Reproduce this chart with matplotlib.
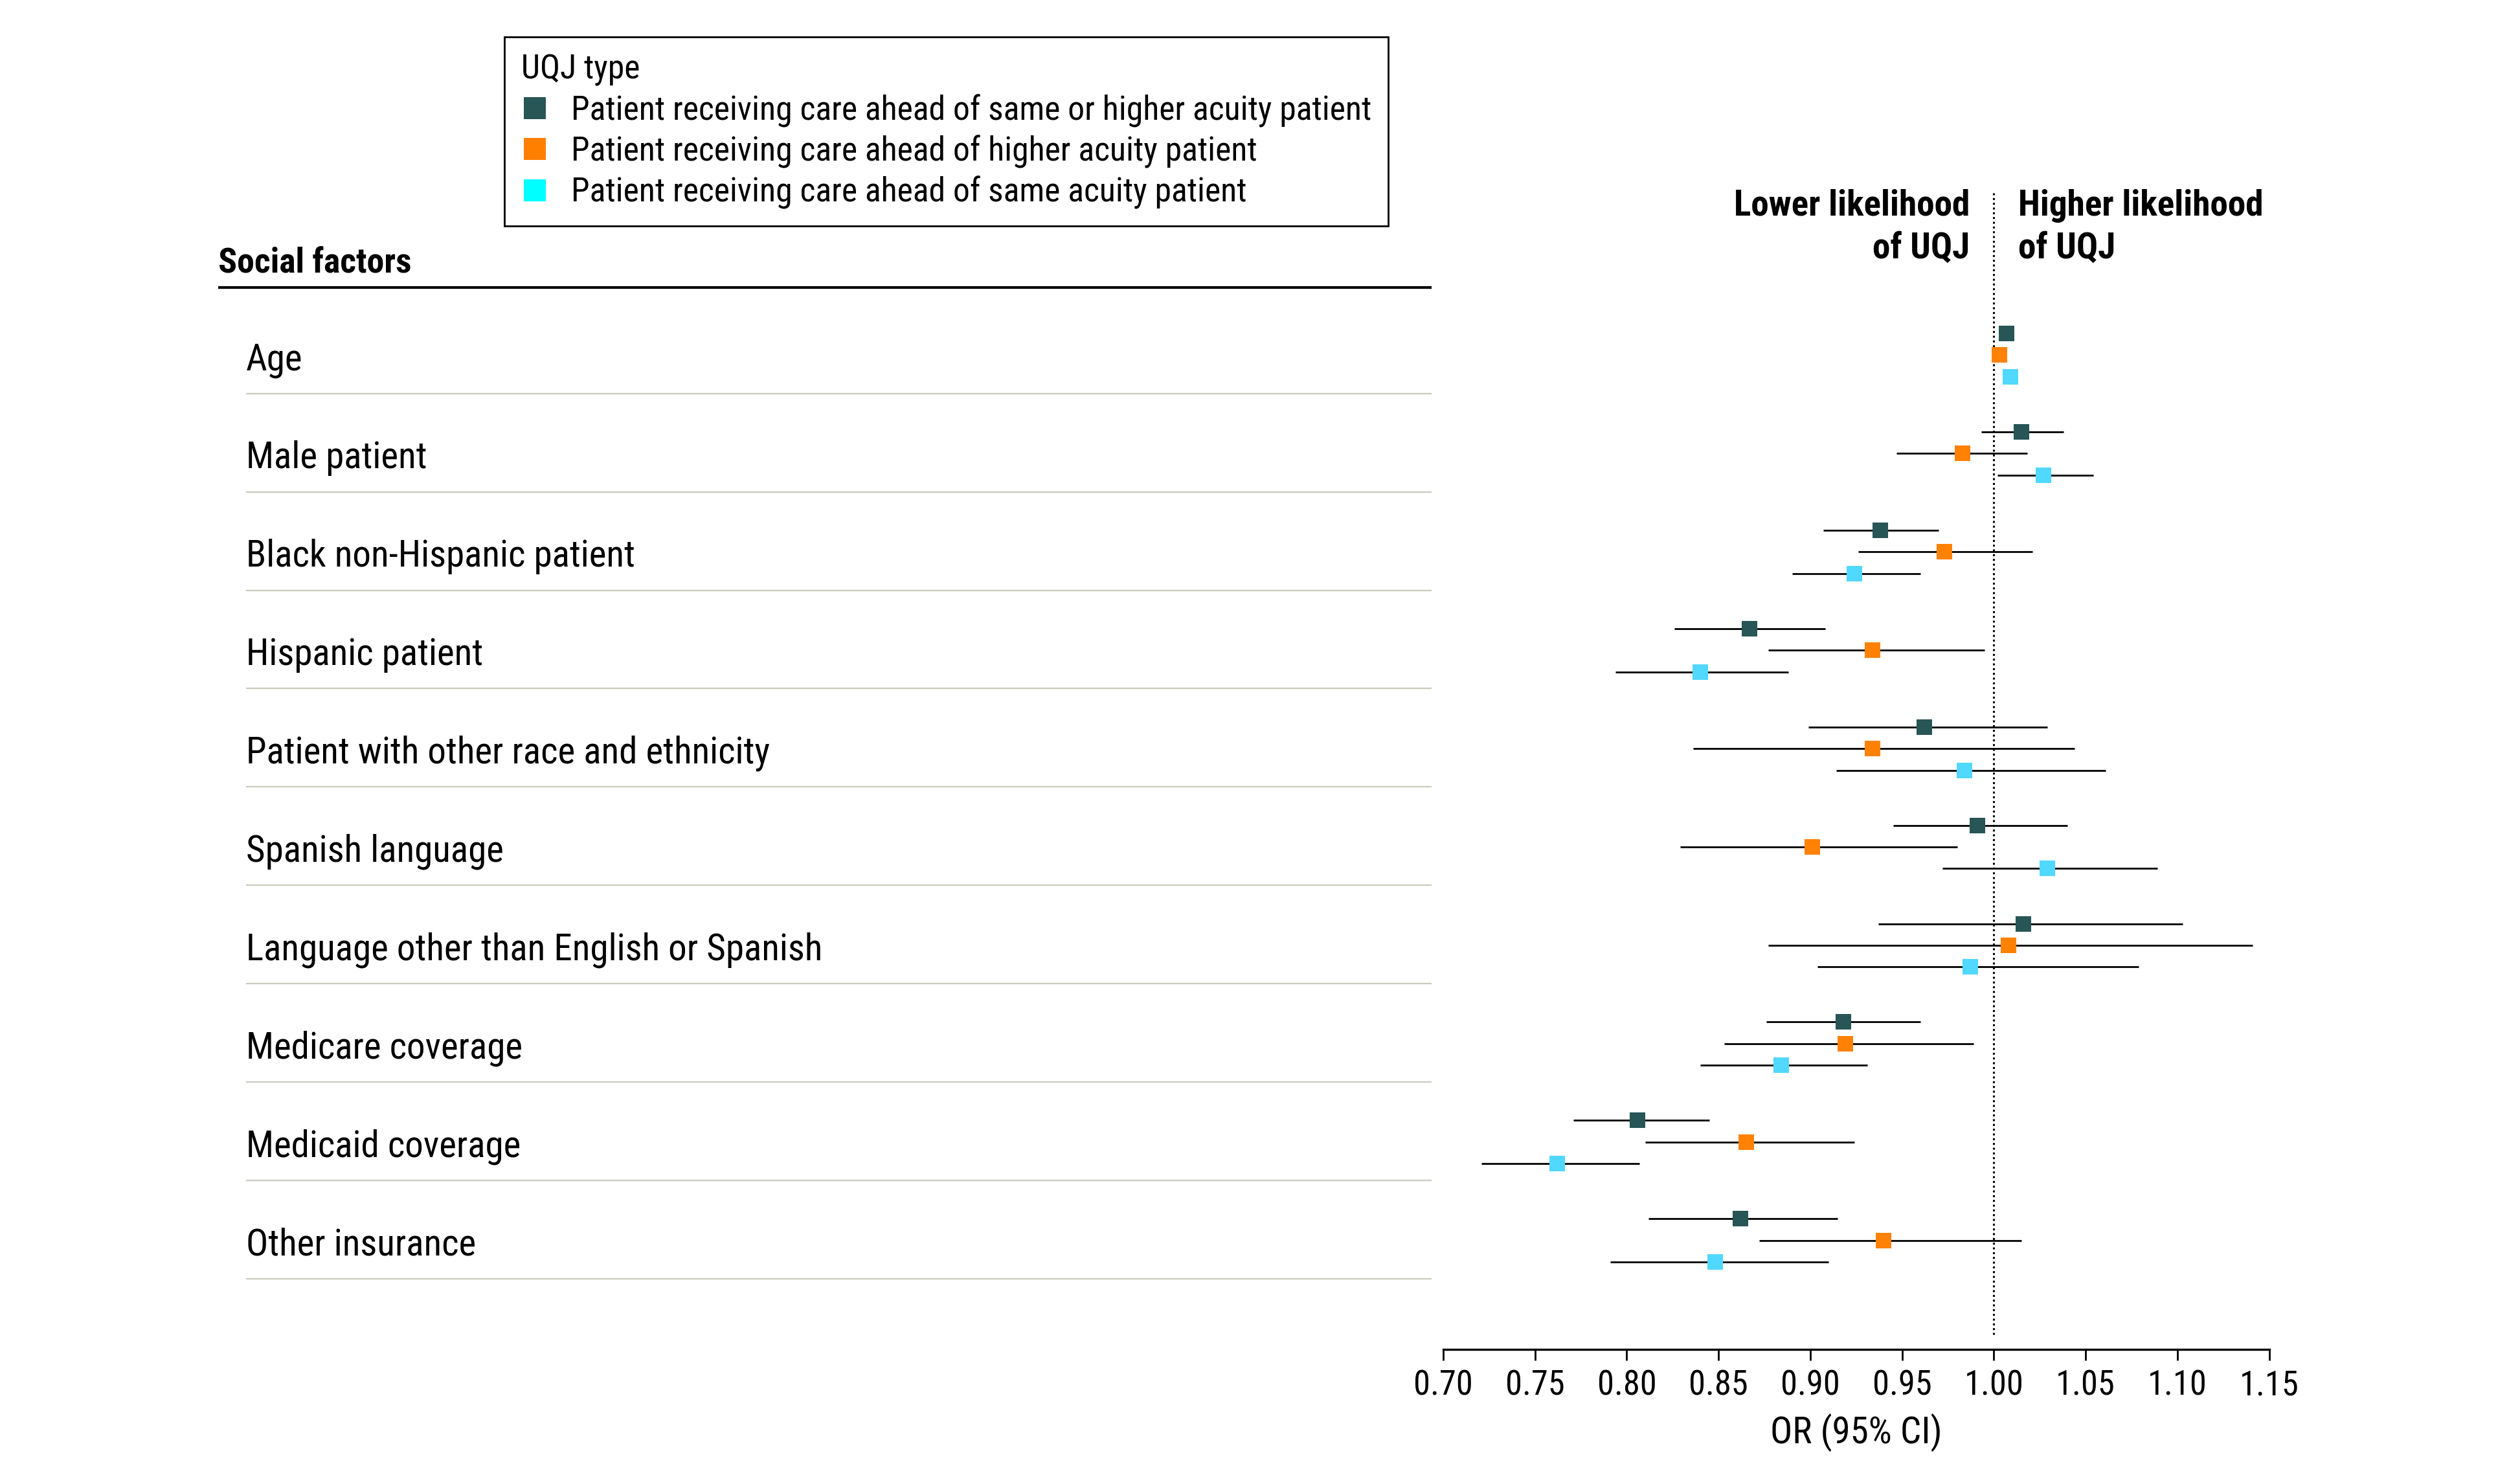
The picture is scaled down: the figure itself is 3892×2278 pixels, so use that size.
import numpy as np
import matplotlib
matplotlib.use("Agg")
import matplotlib.pyplot as plt
from matplotlib import font_manager, transforms
from matplotlib.lines import Line2D

factors = ["Age", "Male patient", "Black non-Hispanic patient", "Hispanic patient",
           "Patient with other race and ethnicity", "Spanish language",
           "Language other than English or Spanish", "Medicare coverage",
           "Medicaid coverage", "Other insurance"]

series_names = ["Patient receiving care ahead of same or higher acuity patient",
                "Patient receiving care ahead of higher acuity patient",
                "Patient receiving care ahead of same acuity patient"]

# odds ratios with 95% CI, one list per UQJ type
or_same_higher = [1.007, 1.015, 0.938, 0.867, 0.962, 0.991, 1.016, 0.918, 0.806, 0.862]
lo_same_higher = [1.006, 0.993, 0.907, 0.826, 0.899, 0.945, 0.937, 0.876, 0.771, 0.812]
hi_same_higher = [1.008, 1.038, 0.970, 0.908, 1.029, 1.040, 1.103, 0.960, 0.845, 0.915]

or_higher = [1.003, 0.983, 0.973, 0.934, 0.934, 0.901, 1.008, 0.919, 0.865, 0.940]
lo_higher = [1.002, 0.947, 0.926, 0.877, 0.836, 0.829, 0.877, 0.853, 0.810, 0.872]
hi_higher = [1.004, 1.018, 1.021, 0.995, 1.044, 0.980, 1.141, 0.989, 0.924, 1.015]

or_same = [1.009, 1.027, 0.924, 0.840, 0.984, 1.029, 0.987, 0.884, 0.762, 0.848]
lo_same = [1.008, 1.002, 0.890, 0.794, 0.914, 0.972, 0.904, 0.840, 0.721, 0.791]
hi_same = [1.010, 1.054, 0.960, 0.888, 1.061, 1.089, 1.079, 0.931, 0.807, 0.910]

x_ticks = [0.70, 0.75, 0.80, 0.85, 0.90, 0.95, 1.00, 1.05, 1.10, 1.15]

colors = ['#285555', '#ff8204', '#50d8ff']
legend_colors = ['#285555', '#ff8000', '#00ffff']

# pick a narrow font if one is there
installed = {f.name for f in font_manager.fontManager.ttflist}
family = 'Roboto'
for cand in ['Liberation Sans Narrow', 'Roboto Condensed', 'Open Sans Condensed']:
    if cand in installed:
        family = cand
        break
plt.rcParams['font.family'] = [family, 'DejaVu Sans']

fig = plt.figure(figsize=(19.46, 11.39), dpi=200)
renderer = fig.canvas.get_renderer()


def fit_size(text, width_frac, weight='normal'):
    t = fig.text(0, 0, text, fontsize=20, weight=weight)
    w = t.get_window_extent(renderer=renderer).width
    t.remove()
    return 20 * width_frac * fig.bbox.width / w


fs_label = fit_size(factors[4], 326 / 1568)
fs_legend = fit_size(series_names[0], 498 / 1568)
fs_head = fit_size("Social factors", 120 / 1568, 'bold')
fs_side = fit_size("Higher likelihood", 152 / 1568, 'bold')
fs_tick = fit_size("0.75", 37 / 1568)
fs_xlab = fit_size("OR (95% CI)", 107 / 1568)

ax = fig.add_axes([0.5727, 0.0850, 0.3278, 0.7843])
ax.set_xlim(0.70, 1.15)
ax.set_ylim(10.11, -1.65)

rows = np.arange(len(factors))
series = [(or_same_higher, lo_same_higher, hi_same_higher, -0.22),
          (or_higher, lo_higher, hi_higher, 0.0),
          (or_same, lo_same, hi_same, 0.22)]
for (vals, lo, hi, off), c in zip(series, colors):
    y = rows + off
    ax.hlines(y, lo, hi, color='black', lw=1.0, zorder=2)
    ax.plot(vals, y, ls='', marker='s', ms=8.6, mew=0, color=c, zorder=3)

ax.vlines(1.0, -1.65, 9.98, colors='black', lw=1.1, linestyles=(0, (1.0, 1.4)))

for side in ['left', 'top', 'right']:
    ax.spines[side].set_visible(False)
ax.spines['bottom'].set_linewidth(1.2)
ax.set_yticks([])
ax.set_xticks(x_ticks)
ax.set_xticklabels([f"{v:.2f}" for v in x_ticks], fontsize=fs_tick)
ax.tick_params(axis='x', length=6, width=1.0, pad=5)
ax.set_xlabel("OR (95% CI)", fontsize=fs_xlab, labelpad=6)

ax.text(0.987, -1.30, "Lower likelihood\nof UQJ", ha='right', va='center',
        multialignment='right', fontsize=fs_side, weight='bold', linespacing=1.35)
ax.text(1.0134, -1.30, "Higher likelihood\nof UQJ", ha='left', va='center',
        multialignment='left', fontsize=fs_side, weight='bold', linespacing=1.35)

# left table part: figure x, data y
trans = transforms.blended_transform_factory(fig.transFigure, ax.transData)
ax.text(0.0867, -0.94, "Social factors", transform=trans, ha='left', va='center',
        fontsize=fs_head, weight='bold')
ax.plot([0.0867, 0.5682], [-0.69, -0.69], transform=trans, color='black', lw=1.5,
        clip_on=False, solid_capstyle='butt')
for k, name in enumerate(factors):
    ax.text(0.0976, k + 0.05, name, transform=trans, ha='left', va='center', fontsize=fs_label)
    ax.plot([0.0976, 0.5682], [k + 0.39, k + 0.39], transform=trans, color='#c8ccbc',
            lw=0.8, clip_on=False, solid_capstyle='butt')

handles = [Line2D([], [], ls='', marker='s', ms=12, mew=0, color=c) for c in legend_colors]
leg = fig.legend(handles, series_names, loc='upper left', bbox_to_anchor=(314 / 1568, 1 - 23 / 918),
                 title="UQJ type", alignment='left', fontsize=fs_legend, title_fontsize=fs_legend,
                 frameon=True, fancybox=False, edgecolor='black', framealpha=1,
                 borderpad=0.5, handlelength=0.8, handletextpad=0.68, labelspacing=0.23,
                 borderaxespad=0)
leg.get_frame().set_linewidth(1.0)

fig.savefig("out.png", dpi=200)
